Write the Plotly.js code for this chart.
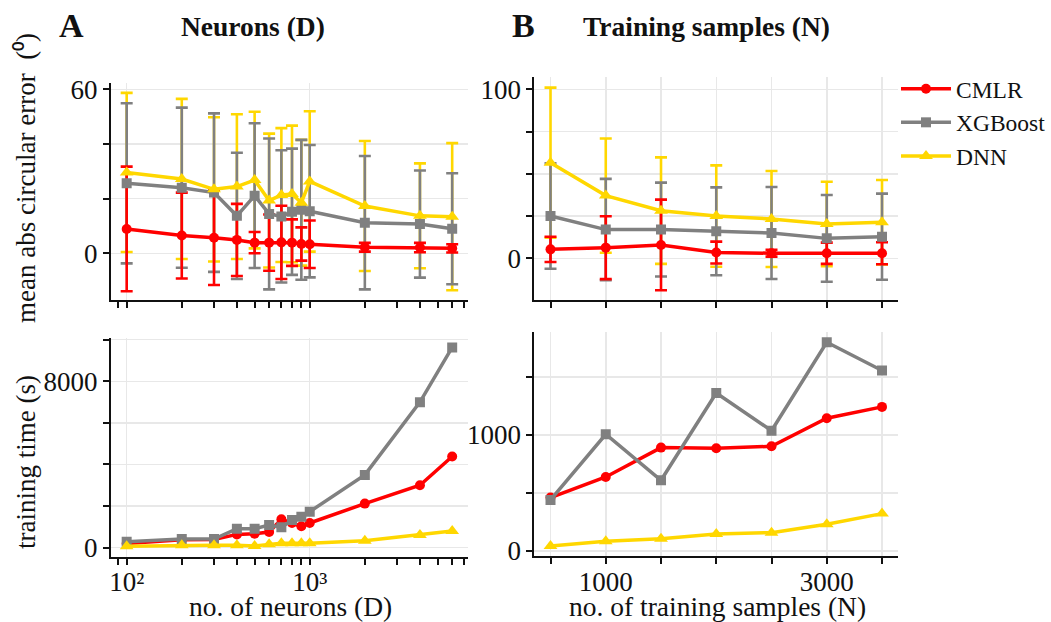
<!DOCTYPE html>
<html>
<head>
<meta charset="utf-8">
<script src="https://cdn.plot.ly/plotly-3.0.1.min.js"></script>
<style>
  html, body { margin: 0; padding: 0; background: #fff; }
  #chart { width: 1051px; height: 622px; }
</style>
</head>
<body>
<div id="chart"></div>
<script>
// ---- Panel A: effect of the number of neurons (D) ----
const neurons = [100, 200, 300, 400, 500, 600, 700, 800, 900, 1000, 2000, 4000, 6000];

const errCmlrD   = [8.9, 6.5, 5.7, 4.9, 3.9, 3.9, 4.0, 3.9, 3.4, 3.3, 2.2, 2.1, 1.8];
const errCmlrDsd = [22.8, 15.7, 17.3, 13.2, 3.9, 10.3, 13.4, 8.5, 6.1, 8.7, 1.6, 1.7, 1.5];
const errXgbD    = [25.6, 24.0, 22.2, 13.7, 21.1, 14.4, 13.5, 15.2, 15.9, 15.4, 11.2, 10.7, 9.0];
const errXgbDsd  = [29.3, 29.3, 29.0, 23.1, 26.5, 27.6, 24.2, 23.1, 25.6, 24.2, 24.4, 19.6, 20.3];
const errDnnD    = [29.6, 27.2, 23.4, 24.4, 26.8, 19.3, 21.3, 21.7, 18.5, 26.3, 17.3, 13.7, 13.4];
const errDnnDsd  = [29.1, 29.3, 26.4, 26.5, 25.0, 24.5, 24.5, 25.0, 23.0, 25.7, 23.8, 19.2, 26.9];

const timeCmlrD = [200, 380, 390, 640, 674, 754, 1364, 1188, 1027, 1188, 2119, 3001, 4382];
const timeXgbD  = [289, 417, 417, 915, 915, 1091, 979, 1332, 1493, 1733, 3499, 6998, 9630];
const timeDnnD  = [64, 112, 112, 112, 80, 160, 209, 209, 209, 209, 337, 610, 802];

// ---- Panel B: effect of the number of training samples (N) ----
const samples = [500, 1000, 1500, 2000, 2500, 3000, 3500];

const errCmlrN   = [5.3, 6.3, 7.9, 3.4, 3.0, 3.0, 3.0];
const errCmlrNsd = [7.5, 18.6, 26.8, 6.5, 2.0, 6.3, 6.5];
const errXgbN    = [25.0, 17.0, 17.0, 16.0, 15.0, 11.8, 12.8];
const errXgbNsd  = [31.2, 30.0, 27.8, 26.0, 27.2, 25.7, 25.5];
const errDnnN    = [56.6, 37.1, 28.2, 25.0, 23.3, 20.3, 21.3];
const errDnnNsd  = [44.4, 33.8, 31.5, 30.0, 28.4, 25.0, 25.0];

const timeCmlrN = [460, 638, 891, 885, 902, 1144, 1242];
const timeXgbN  = [440, 1006, 609, 1362, 1037, 1799, 1555];
const timeDnnN  = [43, 83, 106, 147, 158, 230, 322];

// ---- tick labels ----
const logMajor = [100, 1000];
const logMajorText = ['10\u00b2', '10\u00b3'];
const logMinor = [90, 200, 300, 400, 500, 600, 700, 800, 900, 2000, 3000, 4000, 5000, 6000, 7000];
const sampleTicks = [500, 1000, 1500, 2000, 2500, 3000, 3500];
const sampleTickText = ['', '1000', '', '', '', '3000', ''];
const errTicksD = [0, 20, 40, 60];
const errTickTextD = ['0', '', '', '60'];
const errTicksN = [0, 25, 50, 75, 100];
const errTickTextN = ['0', '', '', '', '100'];
const timeTicksD = [0, 2000, 4000, 6000, 8000, 10000];
const timeTickTextD = ['0', '', '', '', '8000', ''];
const timeTicksN = [0, 500, 1000, 1500];
const timeTickTextN = ['0', '', '1000', ''];

const methods = ['CMLR', 'XGBoost', 'DNN'];
const colors = { CMLR: '#ff0000', XGBoost: '#808080', DNN: '#ffd700' };
const symbols = { CMLR: 'circle', XGBoost: 'square', DNN: 'triangle-up' };
const msize = { CMLR: 10, XGBoost: 10, DNN: 12 };

const FONT = 'Liberation Serif';
const INK = '#111111';

const traces = [];

// error bars first (DNN at the back, CMLR in front), then the lines with markers
function addErrorPanel(x, series, xa, ya) {
  ['DNN', 'XGBoost', 'CMLR'].forEach(m => {
    traces.push({
      type: 'scatter', mode: 'markers', x: x, y: series[m][0],
      xaxis: xa, yaxis: ya, showlegend: false, hoverinfo: 'skip',
      marker: { size: 1, color: 'rgba(0,0,0,0)' },
      error_y: { type: 'data', array: series[m][1], visible: true,
                 color: colors[m], thickness: 2.6, width: 6 }
    });
  });
}
function addLines(x, series, xa, ya, legend) {
  methods.forEach(m => {
    traces.push({
      type: 'scatter', mode: 'lines+markers', name: m, x: x, y: series[m],
      xaxis: xa, yaxis: ya, showlegend: legend,
      line: { color: colors[m], width: 3.5 },
      marker: { color: colors[m], symbol: symbols[m], size: msize[m] }
    });
  });
}

const errD = { CMLR: [errCmlrD, errCmlrDsd], XGBoost: [errXgbD, errXgbDsd], DNN: [errDnnD, errDnnDsd] };
const errN = { CMLR: [errCmlrN, errCmlrNsd], XGBoost: [errXgbN, errXgbNsd], DNN: [errDnnN, errDnnNsd] };

addErrorPanel(neurons, errD, 'x', 'y');
addLines(neurons, { CMLR: errCmlrD, XGBoost: errXgbD, DNN: errDnnD }, 'x', 'y', true);
addErrorPanel(samples, errN, 'x2', 'y2');
addLines(samples, { CMLR: errCmlrN, XGBoost: errXgbN, DNN: errDnnN }, 'x2', 'y2', false);
addLines(neurons, { CMLR: timeCmlrD, XGBoost: timeXgbD, DNN: timeDnnD }, 'x3', 'y3', false);
addLines(samples, { CMLR: timeCmlrN, XGBoost: timeXgbN, DNN: timeDnnN }, 'x4', 'y4', false);

const W = 1051, H = 622;
const px = v => v / W;
const py = v => (H - v) / H;

const base = {
  showline: true, linecolor: INK, linewidth: 2,
  ticks: 'outside', ticklen: 6, tickwidth: 2, tickcolor: INK,
  showgrid: true, gridcolor: '#e8e8e8', gridwidth: 1.5,
  zeroline: false, tickfont: { family: FONT, size: 27, color: INK },
  fixedrange: true
};

const logAxis = (anchor, dom, labels) => Object.assign({}, base, {
  type: 'log', anchor: anchor, domain: dom,
  range: [Math.log10(82), Math.log10(7280)],
  tickmode: 'array', tickvals: logMajor, ticktext: logMajorText, showticklabels: labels,
  ticklabelstandoff: -6,
  minor: { tickmode: 'array', tickvals: logMinor, ticks: 'outside', ticklen: 6,
           tickwidth: 2, tickcolor: INK, showgrid: false }
});
const sampleAxis = (anchor, dom, labels) => Object.assign({}, base, {
  anchor: anchor, domain: dom, range: [355, 3646],
  tickmode: 'array', tickvals: sampleTicks, ticktext: sampleTickText, showticklabels: labels,
  ticklabelstandoff: -6
});
const valAxis = (anchor, dom, range, vals, text) => Object.assign({}, base, {
  anchor: anchor, domain: dom, range: range,
  tickmode: 'array', tickvals: vals, ticktext: text
});

const xL = [px(111), px(468)];
const xR = [px(535), px(899)];

const ann = (text, x, y, size, extra) => Object.assign({
  text: text, x: x, y: y, xref: 'paper', yref: 'paper', showarrow: false,
  xanchor: 'center', yanchor: 'middle', font: { family: FONT, size: size, color: INK }
}, extra || {});

const layout = {
  width: W, height: H,
  margin: { l: 0, r: 0, t: 0, b: 0 },
  paper_bgcolor: '#fff', plot_bgcolor: '#fff',
  font: { family: FONT, color: INK },
  showlegend: true,
  legend: {
    x: px(897), y: py(67), xanchor: 'left', yanchor: 'top',
    font: { family: FONT, size: 23.5, color: INK },
    bgcolor: 'rgba(0,0,0,0)', itemwidth: 50
  },
  xaxis: logAxis('y', xL, false),
  yaxis: valAxis('x', [py(300), py(82.7)], [-17.09, 62.42], errTicksD, errTickTextD),
  xaxis2: sampleAxis('y2', xR, false),
  yaxis2: valAxis('x2', [py(300), py(76.7)], [-24.67, 107.46], errTicksN, errTickTextN),
  xaxis3: logAxis('y3', xL, true),
  yaxis3: valAxis('x3', [py(556.7), py(338.3)], [-433, 10067], timeTicksD, timeTickTextD),
  xaxis4: sampleAxis('y4', xR, true),
  yaxis4: valAxis('x4', [py(556.3), py(331.7)], [-46, 1890], timeTicksN, timeTickTextN),
  annotations: [
    ann('<b>A</b>', px(57), py(25), 34, { xanchor: 'left' }),
    ann('<b>Neurons (D)</b>', px(253), py(26), 27.5),
    ann('<b>B</b>', px(510), py(25), 34, { xanchor: 'left' }),
    ann('<b>Training samples (N)</b>', px(707), py(26), 27.5),
    ann('mean abs circular error \u00a0(\u2070)', px(26), py(178), 27, { textangle: -90 }),
    ann('training time (s)', px(26), py(462), 27, { textangle: -90 }),
    ann('no. of neurons (D)', px(291), py(606), 27.5),
    ann('no. of training samples (N)', px(718), py(606), 27.5)
  ]
};

Plotly.newPlot('chart', traces, layout, { displayModeBar: false, staticPlot: true });
</script>
</body>
</html>
